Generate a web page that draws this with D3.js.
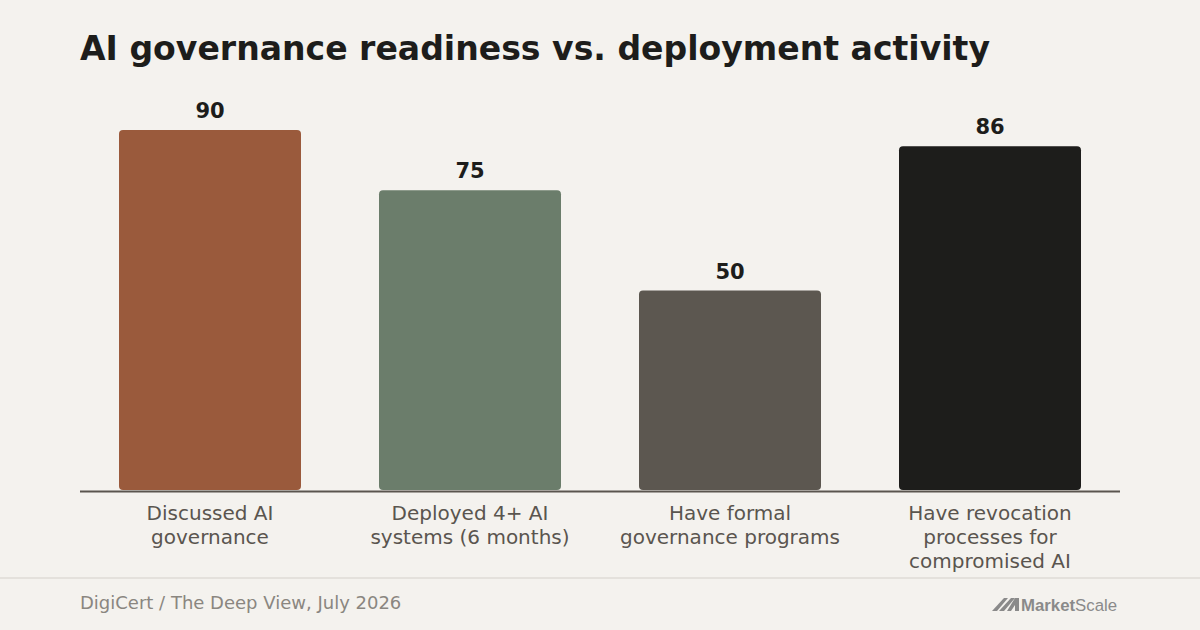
<!DOCTYPE html>
<html><head><meta charset="utf-8">
<script src="https://cdn.jsdelivr.net/npm/d3@7"></script>
<style>html,body{margin:0;padding:0;background:#f4f2ee;}svg{display:block;}</style>
</head><body>
<svg id="c" width="1200" height="630"></svg>
<script>
const categories = ["Discussed AI governance","Deployed 4+ AI systems (6 months)","Have formal governance programs","Have revocation processes for compromised AI"];
const categoryLines = [["Discussed AI","governance"],["Deployed 4+ AI","systems (6 months)"],["Have formal","governance programs"],["Have revocation","processes for","compromised AI"]];
const values = [90, 75, 50, 86];
const barColors = ["#9a5a3c","#6b7d6b","#5c5750","#1d1d1b"];
const yDomain = [0, 100];
const title = "AI governance readiness vs. deployment activity";
const source = "DigiCert / The Deep View, July 2026";

const svg = d3.select("#c");
const font = "'DejaVu Sans', sans-serif";
svg.append("rect").attr("width",1200).attr("height",630).attr("fill","#f4f2ee");

svg.append("text").attr("x",80).attr("y",60).attr("font-family",font).attr("font-weight","bold")
  .attr("font-size",33.1).attr("fill","#1d1d1b").text(title);

const x = d3.scaleBand().domain(categories).range([80,1120]).paddingInner(0.3).paddingOuter(0.15);
const y = d3.scaleLinear().domain(yDomain).range([491, 90]);

const g = svg.append("g");
g.selectAll("path.bar").data(values).join("path").attr("class","bar")
  .attr("fill",(d,i)=>barColors[i])
  .attr("d",(d,i)=>{
    const x0=x(categories[i]), w=x.bandwidth(), y0=y(d), y1=y(0)-1, r=4;
    return `M${x0},${y1-r}V${y0+r}Q${x0},${y0} ${x0+r},${y0}H${x0+w-r}Q${x0+w},${y0} ${x0+w},${y0+r}V${y1-r}Q${x0+w},${y1} ${x0+w-r},${y1}H${x0+r}Q${x0},${y1} ${x0},${y1-r}Z`;
  });

g.selectAll("text.val").data(values).join("text").attr("class","val")
  .attr("x",(d,i)=>x(categories[i])+x.bandwidth()/2).attr("y",d=>y(d)-12)
  .attr("text-anchor","middle").attr("font-family",font).attr("font-weight","bold")
  .attr("font-size",21).attr("fill","#1d1d1b").text(d=>d);

// baseline axis
const axis = d3.axisBottom(x).tickSize(0).tickFormat("");
const ax = svg.append("g").attr("transform",`translate(0,${y(0)+0.5})`).call(axis);
ax.select(".domain").attr("stroke","#5a554f").attr("stroke-width",2).attr("d","M80,0H1120");

const lab = svg.append("g");
categories.forEach((c,i)=>{
  const t = lab.append("text").attr("text-anchor","middle").attr("font-family",font)
    .attr("font-size",20).attr("fill","#5a554f");
  categoryLines[i].forEach((ln,j)=>{
    t.append("tspan").attr("x",x(c)+x.bandwidth()/2).attr("y",519.5+j*24).text(ln);
  });
});

svg.append("line").attr("x1",0).attr("x2",1200).attr("y1",578).attr("y2",578)
  .attr("stroke","#e4e1dc").attr("stroke-width",2);

svg.append("text").attr("x",80).attr("y",609).attr("font-family",font).attr("font-size",18)
  .attr("fill","#8a8680").text(source);

// MarketScale logo
const logo = svg.append("g").attr("fill","#8a8a8a");
logo.append("path").attr("d","M992,611 L1004,598 L1008,598 L997,611 Z");
logo.append("path").attr("d","M999,611 L1011,598 L1015,598 L1004,611 Z");
logo.append("path").attr("d","M1007,611 L1015,598 L1019,598 L1019,611 L1015,611 L1015,605 L1011,611 Z");
const lt = logo.append("text").attr("x",1021).attr("y",611).attr("font-family","'Liberation Sans', Arial, sans-serif")
  .attr("font-size",16.8);
lt.append("tspan").attr("font-weight","bold").text("Market");
lt.append("tspan").text("Scale");
</script>
</body></html>
